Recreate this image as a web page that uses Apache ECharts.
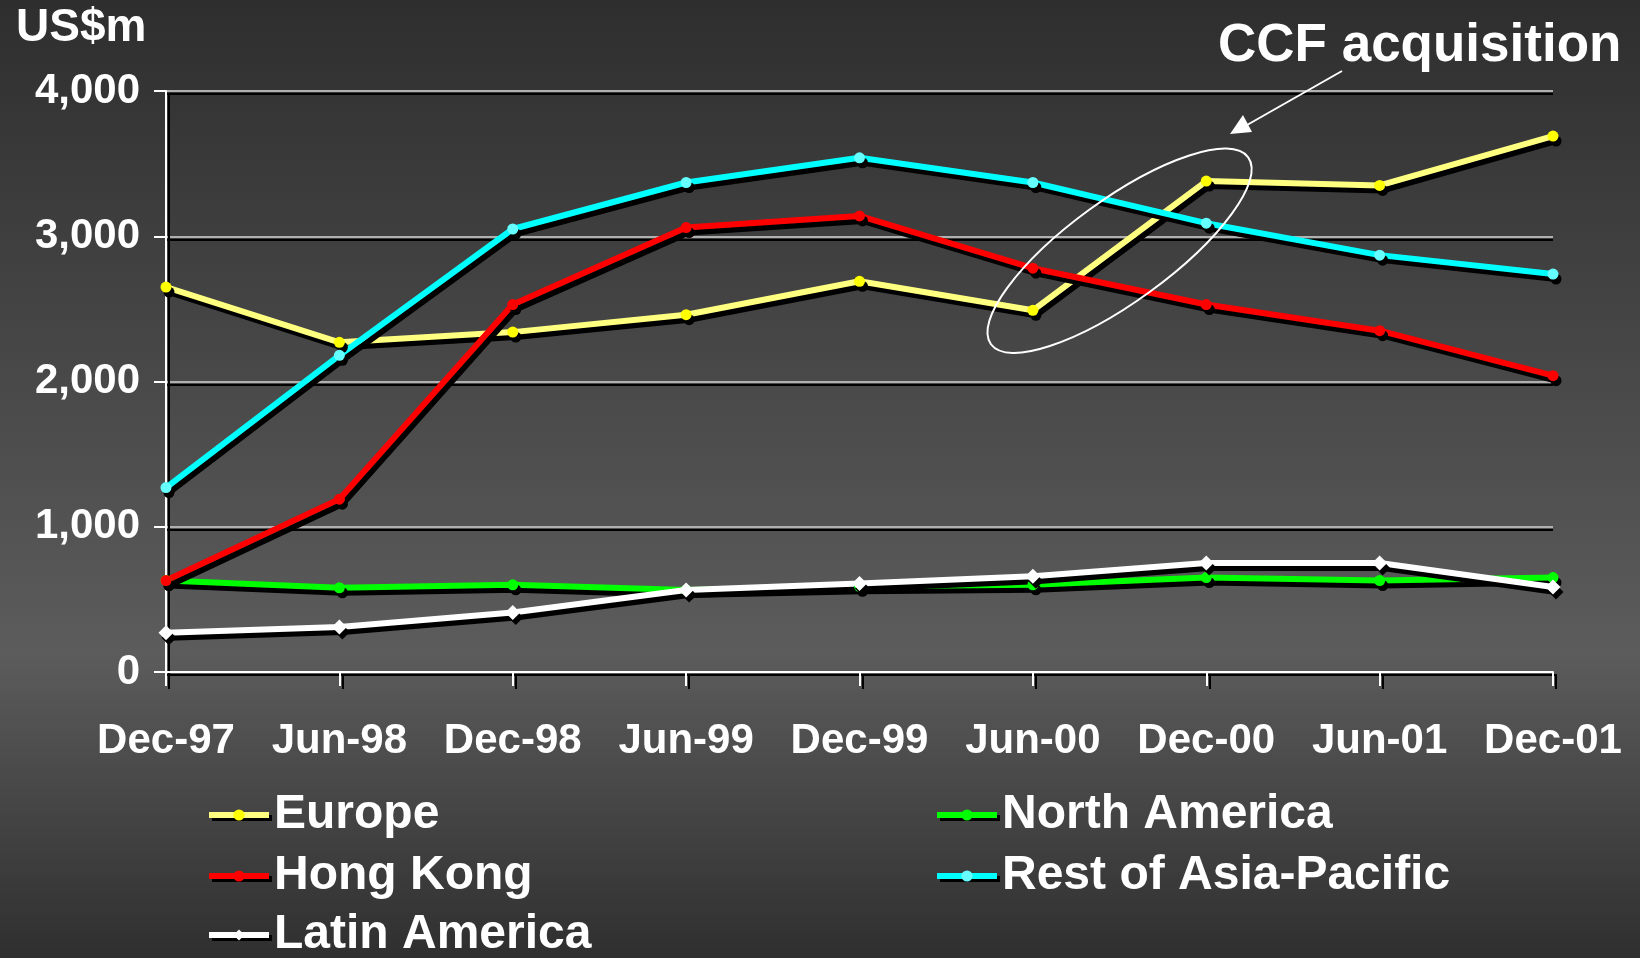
<!DOCTYPE html>
<html>
<head>
<meta charset="utf-8">
<script src="https://cdn.jsdelivr.net/npm/echarts@6/dist/echarts.min.js"></script>
<style>
  html, body { margin: 0; padding: 0; }
  #chart { width: 1640px; height: 958px; }
</style>
</head>
<body>
<div id="chart"></div>
<script>
// period labels on the x axis
var periods = ['Dec-97', 'Jun-98', 'Dec-98', 'Jun-99', 'Dec-99', 'Jun-00', 'Dec-00', 'Jun-01', 'Dec-01']
var yTicks = [0, 1000, 2000, 3000, 4000]

// US$m by region
var europe = [2650, 2270, 2340, 2460, 2690, 2490, 3380, 3350, 3690]
var northAmerica = [630, 580, 600, 565, 590, 600, 650, 630, 650]
var hongKong = [630, 1190, 2530, 3060, 3140, 2780, 2530, 2350, 2040]
var restOfAsia = [1270, 2180, 3050, 3370, 3540, 3370, 3090, 2870, 2740]
var latinAmerica = [270, 310, 410, 565, 610, 660, 750, 750, 585]

var FONT = '"Liberation Sans", Arial, sans-serif'
var shadowText = {
  color: '#fff',
  fontFamily: FONT,
  fontWeight: 'bold',
  textShadowColor: '#000',
  textShadowOffsetX: 3,
  textShadowOffsetY: 3,
  textShadowBlur: 0
}

function lineSeries(name, data, lineColor, dotColor, symbol, size) {
  return {
    name: name,
    type: 'line',
    data: data,
    symbol: symbol,
    symbolSize: size,
    lineStyle: {
      color: lineColor,
      width: 6,
      shadowColor: '#000',
      shadowOffsetX: 3,
      shadowOffsetY: 5,
      shadowBlur: 0
    },
    itemStyle: {
      color: dotColor,
      borderWidth: 0,
      shadowColor: '#000',
      shadowOffsetX: 3,
      shadowOffsetY: 5,
      shadowBlur: 0
    },
    emphasis: { disabled: true },
    animation: false
  }
}

// one legend block per entry so the two columns line up like the slide
function legendItem(name, left, top) {
  return {
    data: [name],
    left: left,
    top: top,
    padding: 0,
    itemWidth: 60,
    itemHeight: 14,
    selectedMode: false,
    lineStyle: { width: 6, shadowColor: '#000', shadowOffsetX: 3, shadowOffsetY: 3, shadowBlur: 0 },
    textStyle: Object.assign({}, shadowText, { fontSize: 48, lineHeight: 46 })
  }
}

var chart = echarts.init(document.getElementById('chart'))

chart.setOption({
  backgroundColor: {
    type: 'linear', x: 0, y: 0, x2: 0, y2: 1,
    colorStops: [
      { offset: 0, color: '#2e2e2e' },
      { offset: 0.68, color: '#5c5c5c' },
      { offset: 1, color: '#2f2f2f' }
    ]
  },
  grid: { left: 166, right: 87, top: 91, bottom: 286 },
  legend: [
    legendItem('Europe', 206, 791),
    legendItem('Hong Kong', 206, 852),
    legendItem('Latin America', 206, 911),
    legendItem('North America', 934, 791),
    legendItem('Rest of Asia-Pacific', 934, 852)
  ],
  xAxis: {
    type: 'category',
    data: periods,
    boundaryGap: false,
    axisLine: {
      lineStyle: { color: '#fff', width: 2, shadowColor: '#000', shadowOffsetX: 3, shadowOffsetY: 3 }
    },
    axisTick: {
      length: 14,
      lineStyle: { color: '#fff', width: 2, shadowColor: '#000', shadowOffsetX: 3, shadowOffsetY: 3 }
    },
    axisLabel: Object.assign({}, shadowText, { fontSize: 42, margin: 48, interval: 0 }),
    splitLine: { show: false }
  },
  yAxis: {
    type: 'value',
    min: yTicks[0],
    max: yTicks[yTicks.length - 1],
    interval: 1000,
    axisLine: {
      show: true,
      lineStyle: { color: '#fff', width: 2, shadowColor: '#000', shadowOffsetX: 3, shadowOffsetY: 3 }
    },
    axisTick: {
      show: true,
      length: 12,
      lineStyle: { color: '#fff', width: 2 }
    },
    axisLabel: Object.assign({}, shadowText, {
      fontSize: 42,
      margin: 26,
      formatter: function (v) { return v.toLocaleString('en-US') }
    }),
    splitLine: {
      lineStyle: { color: '#b0b0b0', width: 2, shadowColor: '#000', shadowOffsetY: 3, shadowBlur: 0 }
    }
  },
  series: [
    lineSeries('Europe', europe, '#ffff80', '#ffff00', 'circle', 11),
    lineSeries('North America', northAmerica, '#00ff00', '#00ff00', 'circle', 11),
    lineSeries('Hong Kong', hongKong, '#ff0000', '#ff0000', 'circle', 11),
    lineSeries('Rest of Asia-Pacific', restOfAsia, '#00ffff', '#66ffff', 'circle', 11),
    lineSeries('Latin America', latinAmerica, '#ffffff', '#ffffff', 'diamond', 15)
  ]
})

// ellipse round the Jun-00 / Dec-00 step, placed from the axes
var p5 = chart.convertToPixel({ gridIndex: 0 }, [periods[5], 2900])
var p6 = chart.convertToPixel({ gridIndex: 0 }, [periods[6], 2900])
var cx = (p5[0] + p6[0]) / 2
var cy = p5[1]

chart.setOption({
  graphic: [
    {
      type: 'text',
      left: 16,
      top: 5,
      style: { text: 'US$m', fill: '#fff', font: 'bold 46px ' + FONT,
        textShadowColor: '#000', textShadowOffsetX: 3, textShadowOffsetY: 3 }
    },
    {
      type: 'text',
      left: 1218,
      top: 20,
      style: { text: 'CCF acquisition', fill: '#fff', font: 'bold 53px ' + FONT }
    },
    {
      type: 'line',
      shape: { x1: 1342, y1: 71, x2: 1240, y2: 129 },
      style: { stroke: '#fff', lineWidth: 2 }
    },
    {
      type: 'polygon',
      shape: { points: [[1230, 134], [1252, 132], [1243, 115]] },
      style: { fill: '#fff' }
    },
    {
      type: 'ellipse',
      x: cx,
      y: cy,
      rotation: 36 * Math.PI / 180,
      shape: { cx: 0, cy: 0, rx: 159, ry: 51 },
      style: { fill: 'none', stroke: '#fff', lineWidth: 2 },
      z: 100
    }
  ]
})
</script>
</body>
</html>
